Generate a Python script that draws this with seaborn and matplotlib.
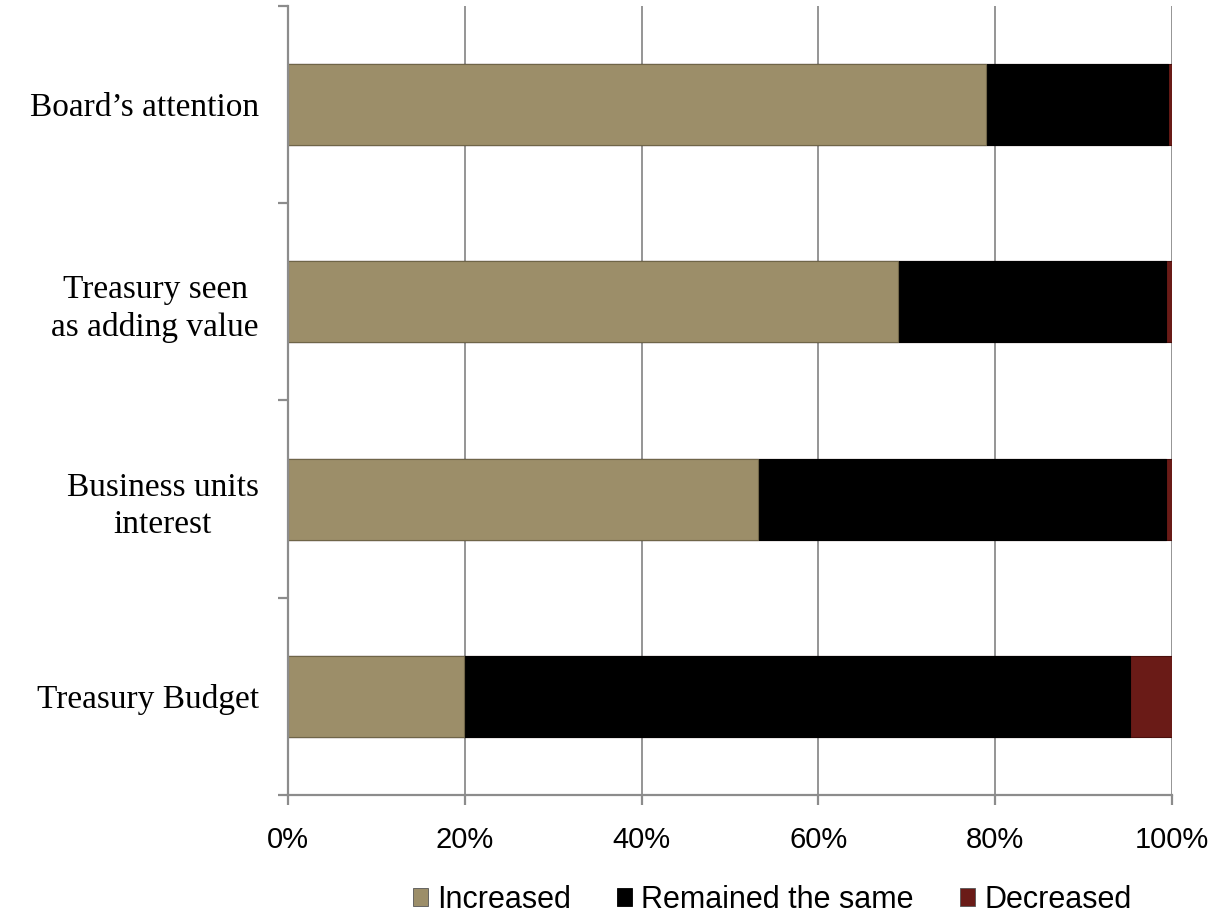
import matplotlib
matplotlib.use("Agg")
import matplotlib.pyplot as plt
import matplotlib.ticker as mticker
from matplotlib.patches import Patch
import seaborn as sns
import pandas as pd
import numpy as np

categories = ["Board\u2019s attention", "Treasury seen\nas adding value",
              "Business units\ninterest", "Treasury Budget"]
increased = [79.0, 69.0, 53.2, 19.9]
remained = [20.6, 30.3, 46.1, 75.4]
decreased = [0.4, 0.7, 0.7, 4.7]
series_names = ["Increased", "Remained the same", "Decreased"]
colors = ["#9C8E69", "#000000", "#6A1B17"]
xticks = [0, 20, 40, 60, 80, 100]

sns.set_theme(style="white")
plt.rcParams['font.family'] = ['Liberation Sans', 'DejaVu Sans']
plt.rcParams['text.color'] = 'black'

df = pd.DataFrame({"cat": categories, "inc": increased, "rem": remained, "dec": decreased})
df["c1"] = df["inc"]
df["c2"] = df["inc"] + df["rem"]
df["c3"] = df["inc"] + df["rem"] + df["dec"]

fig = plt.figure(figsize=(12.26, 9.21), dpi=100)
ax = fig.add_axes([288/1226, 1 - 795/921, (1172-288)/1226, (795-6)/921])

width = 0.41
sns.barplot(data=df, y="cat", x="c3", color=colors[2], width=width, ax=ax,
            orient="h", saturation=1, edgecolor="#4a0f0c", linewidth=0.8, zorder=3)
sns.barplot(data=df, y="cat", x="c2", color=colors[1], width=width, ax=ax,
            orient="h", saturation=1, edgecolor="#000000", linewidth=0.8, zorder=3)
sns.barplot(data=df, y="cat", x="c1", color=colors[0], width=width, ax=ax,
            orient="h", saturation=1, edgecolor="#6f6548", linewidth=0.8, zorder=3)

ax.set_xlim(0, 100)
ax.set_ylim(3.5, -0.5)
ax.set_xticks(xticks)
ax.xaxis.set_major_formatter(mticker.FuncFormatter(lambda v, p: f"{int(v)}%"))
ax.set_xlabel("")
ax.set_ylabel("")

gray = "#8c8c8c"
ax.grid(axis="x", color=gray, linewidth=1.3, zorder=0)
ax.grid(axis="y", visible=False)
ax.set_axisbelow(True)
for s in ["top", "right"]:
    ax.spines[s].set_visible(False)
for s in ["left", "bottom"]:
    ax.spines[s].set_color(gray)
    ax.spines[s].set_linewidth(1.6)
    ax.spines[s].set_zorder(4)

ax.tick_params(axis="x", which="major", direction="out", length=7, width=1.6,
               color=gray, labelsize=21, pad=15, labelcolor="black", bottom=True)
ax.tick_params(axis="y", which="major", length=0, pad=21)
ax.set_yticks(np.arange(-0.5, 4.0, 1.0), minor=True)
ax.tick_params(axis="y", which="minor", direction="out", length=7, width=1.6,
               color=gray, left=True)
ax.xaxis.set_minor_locator(mticker.NullLocator())

for lab in ax.get_yticklabels():
    lab.set_fontfamily(["Liberation Serif", "DejaVu Serif"])
    lab.set_fontsize(24)
    lab.set_color("black")
    lab.set_multialignment("center")
    lab.set_linespacing(1.3)

handles = [Patch(facecolor=colors[i], edgecolor="#555555" if i != 1 else "black",
                 linewidth=0.6, label=series_names[i]) for i in range(3)]
fig.legend(handles=handles, loc="center", bbox_to_anchor=(772/1226, 1 - 900/921),
           ncol=3, frameon=False, handlelength=0.5, handleheight=0.5,
           handletextpad=0.3, columnspacing=1.5, labelcolor="black",
           prop={"family": ["Liberation Sans Narrow", "Liberation Sans"], "size": 22})

fig.savefig("out.png", dpi=100)
